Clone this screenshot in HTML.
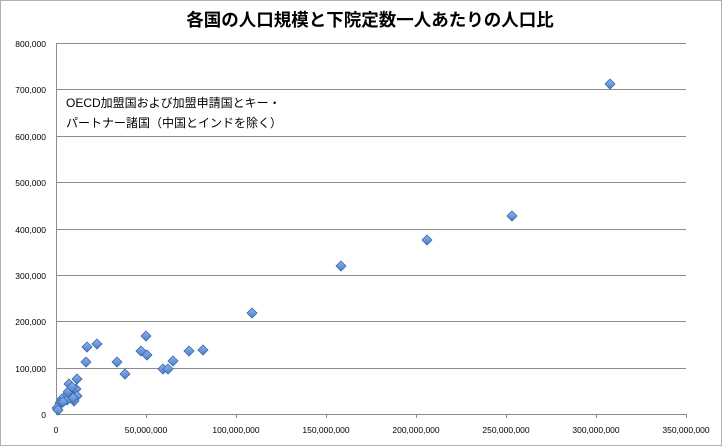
<!DOCTYPE html>
<html><head><meta charset="utf-8"><style>
html,body{margin:0;padding:0;background:#fff}
svg{display:block}
text{font-family:"Liberation Sans","Noto Sans CJK JP",sans-serif}
</style></head><body>
<svg width="722" height="446" viewBox="0 0 722 446" xmlns="http://www.w3.org/2000/svg">
<defs><linearGradient id="g" x1="0" y1="0" x2="0" y2="1"><stop offset="0" stop-color="#8fb4ea"/><stop offset="1" stop-color="#4b7fcc"/></linearGradient>
<symbol id="d" viewBox="-5 -5 10 10" overflow="visible"><path d="M0,-5 L5,0 L0,5 L-5,0Z" fill="url(#g)" stroke="#3b68a8" stroke-width="0.8"/></symbol></defs>
<rect x="0.5" y="0.5" width="721" height="445" fill="#fff" stroke="#b0b0b0"/>
<text x="370" y="26" text-anchor="middle" font-size="17.5" font-weight="bold" fill="#000">各国の人口規模と下院定数一人あたりの人口比</text>
<g stroke="#8c8c8c" stroke-width="1">
<line x1="56" y1="43.5" x2="686" y2="43.5"/><line x1="56" y1="89.5" x2="686" y2="89.5"/><line x1="56" y1="136.5" x2="686" y2="136.5"/><line x1="56" y1="182.5" x2="686" y2="182.5"/><line x1="56" y1="229.5" x2="686" y2="229.5"/><line x1="56" y1="275.5" x2="686" y2="275.5"/><line x1="56" y1="321.5" x2="686" y2="321.5"/><line x1="56" y1="368.5" x2="686" y2="368.5"/><line x1="56" y1="414.5" x2="686" y2="414.5"/>
<line x1="56.5" y1="43" x2="56.5" y2="414"/>
<line x1="146.5" y1="414" x2="146.5" y2="418"/><line x1="236.5" y1="414" x2="236.5" y2="418"/><line x1="326.5" y1="414" x2="326.5" y2="418"/><line x1="416.5" y1="414" x2="416.5" y2="418"/><line x1="506.5" y1="414" x2="506.5" y2="418"/><line x1="596.5" y1="414" x2="596.5" y2="418"/><line x1="686.5" y1="414" x2="686.5" y2="418"/>
</g>
<g font-size="8.5" fill="#000" text-anchor="end">
<text x="46" y="47">800,000</text><text x="46" y="93">700,000</text><text x="46" y="140">600,000</text><text x="46" y="186">500,000</text><text x="46" y="233">400,000</text><text x="46" y="279">300,000</text><text x="46" y="325">200,000</text><text x="46" y="372">100,000</text><text x="46" y="418">0</text>
</g>
<g font-size="8.5" fill="#000" text-anchor="middle">
<text x="56" y="433">0</text><text x="146" y="433">50,000,000</text><text x="236" y="433">100,000,000</text><text x="326" y="433">150,000,000</text><text x="416" y="433">200,000,000</text><text x="506" y="433">250,000,000</text><text x="596" y="433">300,000,000</text><text x="686" y="433">350,000,000</text>
</g>
<text x="66" y="107" font-size="12" fill="#000">OECD加盟国および加盟申請国とキー・</text>
<text x="66" y="127" font-size="12" fill="#000">パートナー諸国（中国とインドを除く）</text>
<g>
<use href="#d" x="605" y="79" width="10" height="10"/>
<use href="#d" x="507" y="211" width="10" height="10"/>
<use href="#d" x="422" y="235" width="10" height="10"/>
<use href="#d" x="336" y="261" width="10" height="10"/>
<use href="#d" x="247" y="308" width="10" height="10"/>
<use href="#d" x="82" y="342" width="10" height="10"/>
<use href="#d" x="92" y="339" width="10" height="10"/>
<use href="#d" x="81" y="357" width="10" height="10"/>
<use href="#d" x="136" y="346" width="10" height="10"/>
<use href="#d" x="141" y="331" width="10" height="10"/>
<use href="#d" x="142" y="350" width="10" height="10"/>
<use href="#d" x="112" y="357" width="10" height="10"/>
<use href="#d" x="120" y="369" width="10" height="10"/>
<use href="#d" x="158" y="364" width="10" height="10"/>
<use href="#d" x="163" y="364" width="10" height="10"/>
<use href="#d" x="168" y="356" width="10" height="10"/>
<use href="#d" x="184" y="346" width="10" height="10"/>
<use href="#d" x="198" y="345" width="10" height="10"/>
<use href="#d" x="72" y="374" width="10" height="10"/>
<use href="#d" x="64" y="379" width="10" height="10"/>
<use href="#d" x="71" y="384" width="10" height="10"/>
<use href="#d" x="72" y="391" width="10" height="10"/>
<use href="#d" x="69" y="396" width="10" height="10"/>
<use href="#d" x="60" y="392" width="10" height="10"/>
<use href="#d" x="57" y="394" width="10" height="10"/>
<use href="#d" x="62" y="395" width="10" height="10"/>
<use href="#d" x="55" y="398" width="10" height="10"/>
<use href="#d" x="52" y="403" width="10" height="10"/>
<use href="#d" x="53" y="405" width="10" height="10"/>
<use href="#d" x="65" y="389" width="10" height="10"/>
<use href="#d" x="68" y="393" width="10" height="10"/>
<use href="#d" x="58" y="397" width="10" height="10"/>
<use href="#d" x="63" y="387" width="10" height="10"/>
<use href="#d" x="67" y="382" width="10" height="10"/>
</g>
</svg>
</body></html>
